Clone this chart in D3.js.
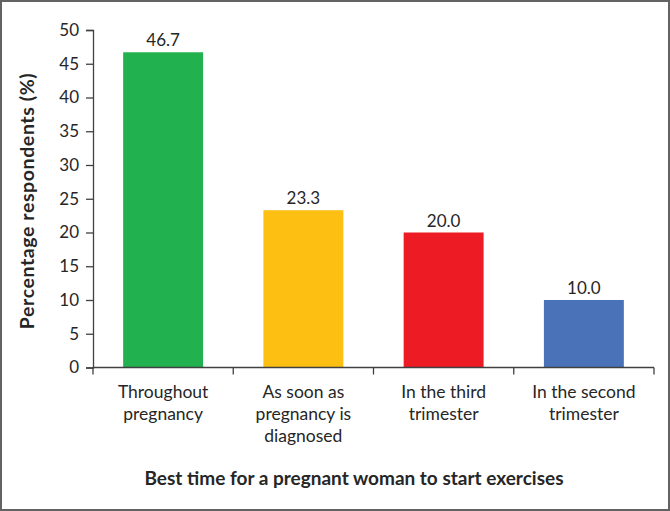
<!DOCTYPE html>
<html>
<head>
<meta charset="utf-8">
<script src="https://cdn.jsdelivr.net/npm/d3@7"></script>
<style>
  body { margin: 0; background: #fff; }
  text { font-family: Lato, "Open Sans", sans-serif; fill: #262626; }
</style>
</head>
<body>
<svg class="chart"></svg>
<script>
// data
var categories = [["Throughout", "pregnancy"], ["As soon as", "pregnancy is", "diagnosed"], ["In the third", "trimester"], ["In the second", "trimester"]];
var values = [46.7, 23.3, 20.0, 10.0];
var colors = ["#21b14f", "#fcbf12", "#ed1c24", "#4a72b8"];
var yTicks = [0, 5, 10, 15, 20, 25, 30, 35, 40, 45, 50];

var W = 670, H = 511;
var plotL = 93, plotR = 654, plotT = 30, plotB = 367.5;

var svg = d3.select(".chart").attr("width", W).attr("height", H);

// outer frame
svg.append("rect")
    .attr("x", 1).attr("y", 1).attr("width", W - 2).attr("height", H - 2)
    .attr("fill", "none").attr("stroke", "#636363").attr("stroke-width", 2);

var idx = d3.range(values.length);
var x = d3.scaleBand().domain(idx).range([plotL, plotR]).padding(0);
var y = d3.scaleLinear().domain([0, 50]).range([plotB, plotT]);
var barW = x.bandwidth() * 0.57;

// bars
svg.selectAll(".bar").data(idx).enter()
    .append("rect")
    .attr("class", "bar")
    .attr("x", function(d) { return x(d) + (x.bandwidth() - barW) / 2; })
    .attr("y", function(d) { return y(values[d]); })
    .attr("width", barW)
    .attr("height", function(d) { return y(0) - y(values[d]); })
    .attr("fill", function(d) { return colors[d]; });

// value labels
svg.selectAll(".val").data(idx).enter()
    .append("text")
    .attr("x", function(d) { return x(d) + x.bandwidth() / 2; })
    .attr("y", function(d) { return y(values[d]) - 6; })
    .attr("text-anchor", "middle")
    .style("font-size", "17px")
    .text(function(d) { return values[d].toFixed(1); });

// y axis
var yAxis = svg.append("g")
    .attr("transform", "translate(" + plotL + ",0)")
    .call(d3.axisLeft(y).tickValues(yTicks).tickSize(7).tickSizeOuter(7).tickPadding(7));
yAxis.select(".domain").attr("stroke", "#404040").attr("stroke-width", 1.3);
yAxis.selectAll(".tick line").attr("stroke", "#404040").attr("stroke-width", 1.3);
yAxis.selectAll(".tick text").style("font-size", "17px").style("font-family", "Lato, 'Open Sans', sans-serif").attr("fill", "#262626");

// x axis: baseline + ticks at category boundaries
var xg = svg.append("g");
xg.append("line")
    .attr("x1", plotL).attr("x2", plotR).attr("y1", plotB).attr("y2", plotB)
    .attr("stroke", "#404040").attr("stroke-width", 1.3);
var edges = idx.map(function(d) { return x(d); }).concat([plotR]);
xg.selectAll(".xt").data(edges).enter()
    .append("line")
    .attr("x1", function(d) { return d; }).attr("x2", function(d) { return d; })
    .attr("y1", plotB).attr("y2", plotB + 7)
    .attr("stroke", "#404040").attr("stroke-width", 1.3);

// category labels
var cat = svg.selectAll(".cat").data(idx).enter()
    .append("text")
    .attr("text-anchor", "middle")
    .style("font-size", "17.5px");
cat.each(function(d) {
    var t = d3.select(this);
    categories[d].forEach(function(line, i) {
        t.append("tspan")
            .attr("x", x(d) + x.bandwidth() / 2)
            .attr("y", 398 + i * 22)
            .text(line);
    });
});

// axis titles
svg.append("text")
    .attr("x", 354).attr("y", 485)
    .attr("text-anchor", "middle")
    .style("font-size", "19px").style("font-weight", "bold")
    .text("Best time for a pregnant woman to start exercises");

svg.append("text")
    .attr("transform", "translate(34,201) rotate(-90)")
    .attr("text-anchor", "middle")
    .style("font-size", "19.5px").style("font-weight", "bold")
    .style("letter-spacing", "0.6px")
    .text("Percentage respondents (%)");
</script>
</body>
</html>
